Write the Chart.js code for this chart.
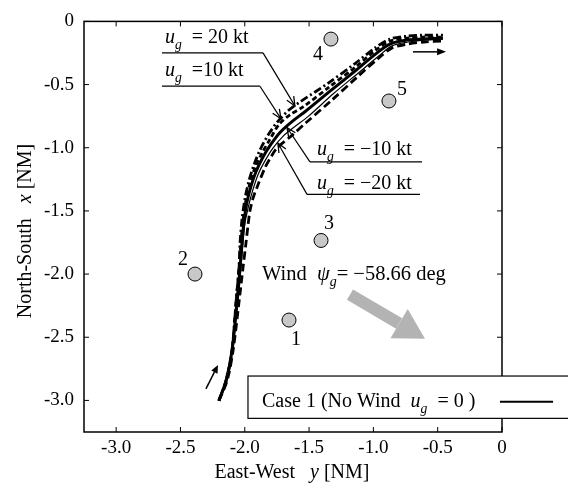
<!DOCTYPE html>
<html>
<head>
<meta charset="utf-8">
<script src="https://cdn.jsdelivr.net/npm/chart.js@4.4.1/dist/chart.umd.min.js"></script>
<style>
  body { margin: 0; background: #ffffff; }
  canvas { display: block; }
</style>
</head>
<body>
<canvas id="trajChart" width="568" height="485"></canvas>
<script>
// Trajectory comparison chart - East-West vs North-South [NM]

// Axis ticks
const eastTicks = [-3.0, -2.5, -2.0, -1.5, -1.0, -0.5, 0];
const northTicks = [-3.0, -2.5, -2.0, -1.5, -1.0, -0.5, 0];

// Case 1, no wind (u_g = 0)
const noWindEast = [-2.201, -2.146, -2.100, -2.061, -2.037, -2.022, -2.006, -1.983, -1.952, -1.913, -1.858, -1.796, -1.726, -1.633, -1.532, -1.337, -1.128, -0.972, -0.871, -0.739, -0.614, -0.459];
const noWindNorth = [-3.002, -2.846, -2.613, -2.224, -1.952, -1.757, -1.586, -1.431, -1.306, -1.190, -1.073, -0.972, -0.879, -0.793, -0.715, -0.552, -0.381, -0.249, -0.179, -0.148, -0.140, -0.132];

// u_g = 20 kt
const ug20East = [-2.201, -2.146, -2.100, -2.068, -2.045, -2.037, -2.022, -1.998, -1.967, -1.928, -1.882, -1.820, -1.750, -1.664, -1.571, -1.353, -1.143, -0.988, -0.871, -0.739, -0.614, -0.459];
const ug20North = [-3.002, -2.846, -2.613, -2.224, -1.952, -1.757, -1.571, -1.400, -1.260, -1.135, -1.019, -0.902, -0.801, -0.708, -0.638, -0.490, -0.334, -0.210, -0.140, -0.117, -0.109, -0.109];

// u_g = 10 kt
const ug10East = [-2.201, -2.146, -2.100, -2.068, -2.045, -2.030, -2.014, -1.991, -1.960, -1.921, -1.866, -1.804, -1.734, -1.649, -1.547, -1.345, -1.135, -0.980, -0.871, -0.739, -0.614, -0.459];
const ug10North = [-3.002, -2.846, -2.613, -2.224, -1.952, -1.757, -1.579, -1.415, -1.283, -1.159, -1.042, -0.933, -0.816, -0.739, -0.677, -0.521, -0.358, -0.226, -0.156, -0.132, -0.124, -0.124];

// u_g = -10 kt
const ugM10East = [-2.201, -2.146, -2.100, -2.053, -2.030, -2.014, -1.998, -1.967, -1.936, -1.897, -1.843, -1.781, -1.703, -1.610, -1.509, -1.314, -1.112, -0.956, -0.855, -0.731, -0.607, -0.459];
const ugM10North = [-3.002, -2.846, -2.613, -2.224, -1.952, -1.757, -1.594, -1.446, -1.330, -1.213, -1.104, -1.003, -0.910, -0.832, -0.754, -0.575, -0.404, -0.272, -0.194, -0.163, -0.148, -0.140];

// u_g = -20 kt
const ugM20East = [-2.201, -2.138, -2.092, -2.045, -2.014, -1.991, -1.975, -1.960, -1.936, -1.905, -1.843, -1.796, -1.750, -1.633, -1.532, -1.322, -1.120, -0.964, -0.855, -0.731, -0.607, -0.459];
const ugM20North = [-3.002, -2.846, -2.613, -2.224, -1.952, -1.757, -1.617, -1.501, -1.400, -1.314, -1.159, -1.073, -1.003, -0.902, -0.809, -0.622, -0.435, -0.295, -0.210, -0.179, -0.163, -0.156];

// Numbered stations
const stationLabels = ['1', '2', '3', '4', '5'];
const stationEast = [-1.656, -2.387, -1.407, -1.33, -0.879];
const stationNorth = [-2.364, -2.0, -1.734, -0.14, -0.63];

const SERIF = '"Liberation Serif", "Times New Roman", serif';

function toPoints(east, north) {
    return east.map((e, i) => ({ x: e, y: north[i] }));
}

function trajectory(label, east, north, width, dash) {
    return {
        label: label,
        data: toPoints(east, north),
        showLine: true,
        borderColor: '#000000',
        borderWidth: width,
        borderDash: dash,
        pointRadius: 0,
        tension: 0.3,
        fill: false
    };
}

// draw text made of parts: italic / subscript pieces
function drawParts(ctx, x, y, parts, size) {
    let cx = x;
    parts.forEach(p => {
        const fs = p.sub ? size * 0.68 : size;
        ctx.font = (p.it ? 'italic ' : '') + fs + 'px ' + SERIF;
        ctx.fillText(p.t, cx, p.sub ? y + size * 0.3 : y);
        cx += ctx.measureText(p.t).width;
    });
    return cx - x;
}

function measureParts(ctx, parts, size) {
    let w = 0;
    parts.forEach(p => {
        const fs = p.sub ? size * 0.68 : size;
        ctx.font = (p.it ? 'italic ' : '') + fs + 'px ' + SERIF;
        w += ctx.measureText(p.t).width;
    });
    return w;
}

function drawArrow(ctx, x1, y1, x2, y2, opts) {
    const ang = Math.atan2(y2 - y1, x2 - x1);
    const hl = opts.headLen, hw = opts.headWidth / 2;
    ctx.save();
    ctx.strokeStyle = opts.color;
    ctx.fillStyle = opts.color;
    ctx.lineWidth = opts.width;
    ctx.setLineDash([]);
    const bx = x2 - hl * Math.cos(ang), by = y2 - hl * Math.sin(ang);
    ctx.beginPath();
    ctx.moveTo(x1, y1);
    ctx.lineTo(opts.filled ? bx : x2, opts.filled ? by : y2);
    ctx.stroke();
    const px = -Math.sin(ang) * hw, py = Math.cos(ang) * hw;
    ctx.beginPath();
    if (opts.filled) {
        ctx.moveTo(x2, y2);
        ctx.lineTo(bx + px, by + py);
        ctx.lineTo(bx - px, by - py);
        ctx.closePath();
        ctx.fill();
    } else {
        ctx.lineWidth = 1.3;
        ctx.moveTo(bx + px, by + py);
        ctx.lineTo(x2, y2);
        ctx.lineTo(bx - px, by - py);
        ctx.stroke();
    }
    ctx.restore();
}

// leader annotations (data coords): text anchor, underline start/end, arrow tip
const ugLabel = txt => [{ t: 'u', it: true }, { t: 'g', it: true, sub: true }, { t: '  ' + txt }];
const leaders = [
    { parts: ugLabel('= 20 kt'), text: [-2.62, -0.171], line: [[-1.858, -0.249], [-2.644, -0.249]], tip: [-1.61, -0.669] },
    { parts: ugLabel('=10 kt'), text: [-2.62, -0.435], line: [[-1.882, -0.513], [-2.644, -0.513]], tip: [-1.719, -0.77] },
    { parts: ugLabel('= \u221210 kt'), text: [-1.439, -1.058], line: [[-1.493, -1.112], [-0.622, -1.112]], tip: [-1.672, -0.84] },
    { parts: ugLabel('= \u221220 kt'), text: [-1.439, -1.33], line: [[-1.516, -1.369], [-0.638, -1.369]], tip: [-1.742, -0.964] }
];

const stationLabelPos = [[-1.602, -2.52], [-2.48, -1.89], [-1.345, -1.602], [-1.431, -0.264], [-0.778, -0.544]];

const overlayPlugin = {
    id: 'overlay',
    afterDraw(chart) {
        const ctx = chart.ctx;
        const xs = chart.scales.x, ys = chart.scales.y;
        const area = chart.chartArea;
        const px = v => xs.getPixelForValue(v);
        const py = v => ys.getPixelForValue(v);

        ctx.save();
        // frame
        ctx.strokeStyle = '#000';
        ctx.lineWidth = 1.5;
        ctx.setLineDash([]);
        ctx.strokeRect(area.left, area.top, area.right - area.left, area.bottom - area.top);
        // inward ticks on all sides
        ctx.lineWidth = 1;
        ctx.beginPath();
        eastTicks.forEach(v => {
            const x = px(v);
            ctx.moveTo(x, area.bottom); ctx.lineTo(x, area.bottom - 5);
            ctx.moveTo(x, area.top); ctx.lineTo(x, area.top + 5);
        });
        northTicks.forEach(v => {
            const y = py(v);
            ctx.moveTo(area.left, y); ctx.lineTo(area.left + 5, y);
            ctx.moveTo(area.right, y); ctx.lineTo(area.right - 5, y);
        });
        ctx.stroke();

        // axis titles
        ctx.fillStyle = '#000';
        ctx.textBaseline = 'alphabetic';
        ctx.textAlign = 'left';
        const xt = [{ t: 'East-West   ' }, { t: 'y', it: true }, { t: ' [NM]' }];
        let w = measureParts(ctx, xt, 20);
        drawParts(ctx, 292 - w / 2, 478, xt, 20);

        const yt = [{ t: 'North-South   ' }, { t: 'x', it: true }, { t: ' [NM]' }];
        w = measureParts(ctx, yt, 20);
        ctx.save();
        ctx.translate(31, 231);
        ctx.rotate(-Math.PI / 2);
        drawParts(ctx, -w / 2, 0, yt, 20);
        ctx.restore();

        // station numbers
        ctx.font = '20px ' + SERIF;
        ctx.textAlign = 'center';
        ctx.textBaseline = 'middle';
        stationLabels.forEach((s, i) => {
            ctx.fillText(s, px(stationLabelPos[i][0]), py(stationLabelPos[i][1]));
        });

        // leader annotations
        ctx.textAlign = 'left';
        ctx.textBaseline = 'alphabetic';
        leaders.forEach(l => {
            drawParts(ctx, px(l.text[0]), py(l.text[1]), l.parts, 20);
            ctx.lineWidth = 1.2;
            ctx.beginPath();
            ctx.moveTo(px(l.line[0][0]), py(l.line[0][1]));
            ctx.lineTo(px(l.line[1][0]), py(l.line[1][1]));
            ctx.stroke();
            drawArrow(ctx, px(l.line[0][0]), py(l.line[0][1]), px(l.tip[0]), py(l.tip[1]),
                { headLen: 9, headWidth: 8, width: 1.2, color: '#000', filled: false });
        });

        // wind label and arrow
        drawParts(ctx, px(-1.866), py(-2.045),
            [{ t: 'Wind  ' }, { t: '\u03C8', it: true }, { t: 'g', it: true, sub: true }, { t: '= \u221258.66 deg' }], 20.5);
        drawArrow(ctx, px(-1.182), py(-2.162), px(-0.599), py(-2.512),
            { headLen: 30, headWidth: 34, width: 12, color: '#b3b3b3', filled: true });

        // direction arrows at start and end of the path
        drawArrow(ctx, px(-2.302), py(-2.908), px(-2.208), py(-2.72),
            { headLen: 8, headWidth: 7, width: 1.5, color: '#000', filled: true });
        drawArrow(ctx, px(-0.692), py(-0.241), px(-0.435), py(-0.241),
            { headLen: 9, headWidth: 7, width: 1.5, color: '#000', filled: true });

        // legend box
        const lx1 = px(-1.975), ly1 = py(-2.807), lx2 = px(0.6), ly2 = py(-3.142);
        ctx.fillStyle = '#fff';
        ctx.fillRect(lx1, ly1, lx2 - lx1, ly2 - ly1);
        ctx.strokeStyle = '#000';
        ctx.lineWidth = 1.2;
        ctx.strokeRect(lx1, ly1, lx2 - lx1, ly2 - ly1);
        ctx.fillStyle = '#000';
        drawParts(ctx, px(-1.866), py(-3.056),
            [{ t: 'Case 1 (No Wind  ' }, { t: 'u', it: true }, { t: 'g', it: true, sub: true }, { t: '  = 0 )' }], 20);
        ctx.lineWidth = 2;
        ctx.beginPath();
        ctx.moveTo(px(-0.016), py(-3.01));
        ctx.lineTo(px(0.397), py(-3.01));
        ctx.stroke();
        ctx.restore();
    }
};

const trajCanvas = document.getElementById('trajChart');
new Chart(trajCanvas, {
    type: 'scatter',
    data: {
        datasets: [
            trajectory('u_g = -20 kt', ugM20East, ugM20North, 2.8, [8, 4]),
            trajectory('u_g = -10 kt', ugM10East, ugM10North, 1.2, []),
            trajectory('u_g = 10 kt', ug10East, ug10North, 2.8, [5, 3]),
            trajectory('u_g = 20 kt', ug20East, ug20North, 2.8, [8, 3, 2, 3]),
            trajectory('Case 1 (No Wind)', noWindEast, noWindNorth, 3, []),
            {
                label: 'Stations',
                data: toPoints(stationEast, stationNorth),
                showLine: false,
                pointRadius: 7,
                pointBackgroundColor: '#c8c8c8',
                pointBorderColor: '#000000',
                pointBorderWidth: 1
            }
        ]
    },
    options: {
        responsive: false,
        animation: false,
        layout: { padding: { top: 14, right: 66, left: 0, bottom: 0 } },
        plugins: {
            legend: { display: false },
            tooltip: { enabled: false }
        },
        scales: {
            x: {
                type: 'linear',
                min: -3.25,
                max: 0,
                grid: { display: false, drawTicks: false },
                border: { display: false },
                afterBuildTicks: s => { s.ticks = eastTicks.map(v => ({ value: v })); },
                afterFit: s => { s.height = 53; },
                ticks: {
                    color: '#000',
                    padding: 5,
                    maxRotation: 0,
                    font: { family: SERIF, size: 19 },
                    callback: v => (v === 0 ? '0' : v.toFixed(1))
                }
            },
            y: {
                type: 'linear',
                min: -3.25,
                max: 0,
                grid: { display: false, drawTicks: false },
                border: { display: false },
                afterBuildTicks: s => { s.ticks = northTicks.map(v => ({ value: v })); },
                afterFit: s => { s.width = 84; },
                ticks: {
                    color: '#000',
                    padding: 10,
                    font: { family: SERIF, size: 19 },
                    callback: v => (v === 0 ? '0' : v.toFixed(1))
                }
            }
        }
    },
    plugins: [overlayPlugin]
});
</script>
</body>
</html>
